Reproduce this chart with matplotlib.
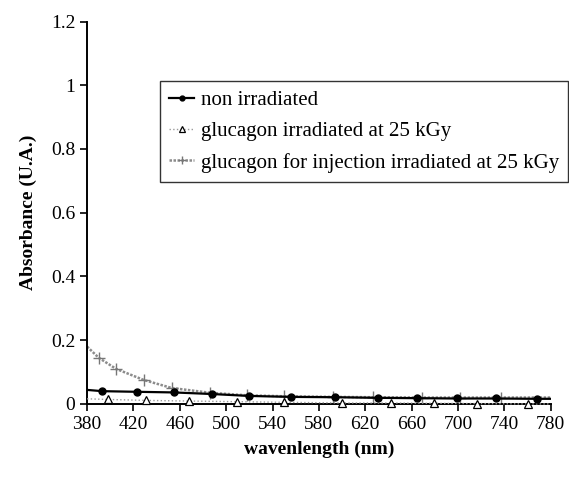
import matplotlib
matplotlib.use("Agg")
import matplotlib.pyplot as plt

wl_non = [380, 393, 423, 455, 488, 520, 556, 594, 631, 665, 699, 733, 768, 780]
abs_non = [0.044, 0.040, 0.038, 0.036, 0.031, 0.025, 0.022, 0.021, 0.019, 0.018, 0.017, 0.017, 0.016, 0.016]

wl_glu = [380, 398, 431, 468, 509, 550, 600, 642, 679, 716, 760, 780]
abs_glu = [0.016, 0.014, 0.011, 0.009, 0.007, 0.005, 0.003, 0.003, 0.002, 0.001, 0.0, 0.0]

wl_inj = [380, 390, 405, 429, 453, 486, 518, 550, 592, 627, 669, 702, 737, 780]
abs_inj = [0.18, 0.145, 0.11, 0.075, 0.05, 0.035, 0.027, 0.024, 0.022, 0.021, 0.02, 0.02, 0.02, 0.02]

labels = ["non irradiated",
          "glucagon irradiated at 25 kGy",
          "glucagon for injection irradiated at 25 kGy"]
xticks = list(range(380, 781, 40))
yticks = [0, 0.2, 0.4, 0.6, 0.8, 1, 1.2]
ytick_labels = ["0", "0.2", "0.4", "0.6", "0.8", "1", "1.2"]

plt.rcParams["font.family"] = ["Liberation Serif", "DejaVu Serif"]

fig = plt.figure(figsize=(5.69, 4.78), dpi=100)
ax = fig.add_axes([0.153, 0.155, 0.815, 0.80])

ax.plot(wl_non, abs_non, color="black", lw=1.6, marker="o", ms=5,
        markevery=slice(1, -1), label=labels[0], zorder=4)
ax.plot(wl_glu, abs_glu, color="#9a9a9a", lw=1.0, ls=":", marker="^", ms=6,
        mfc="white", mec="black", mew=0.9, markevery=slice(1, -1),
        label=labels[1], clip_on=False, zorder=3)
ax.plot(wl_inj, abs_inj, color="#8c8c8c", lw=1.8, ls=(0, (1, 0.6)), marker="+",
        ms=8, mec="#777777", markevery=slice(1, -1), label=labels[2], zorder=2)

ax.set_xlim(380, 780)
ax.set_ylim(0, 1.2)
ax.set_xticks(xticks)
ax.set_yticks(yticks)
ax.set_yticklabels(ytick_labels)
ax.tick_params(direction="out", length=5, width=1.2, labelsize=14, colors="black")
ax.spines["top"].set_visible(False)
ax.spines["right"].set_visible(False)
ax.spines["left"].set_linewidth(1.4)
ax.spines["bottom"].set_linewidth(1.4)

ax.set_xlabel("wavenlength (nm)", fontsize=14, fontweight="bold", labelpad=6)
ax.set_ylabel("Absorbance (U.A.)", fontsize=14, fontweight="bold", labelpad=10)

leg = ax.legend(loc="upper left", bbox_to_anchor=(0.281, 0.83),
                bbox_transform=fig.transFigure, fontsize=15, frameon=True,
                fancybox=False, edgecolor="black", handlelength=1.2,
                handletextpad=0.3, borderpad=0.45, labelspacing=0.55,
                borderaxespad=0, markerscale=0.7)
leg.get_frame().set_linewidth(1.0)

fig.savefig("out.png", dpi=100)
